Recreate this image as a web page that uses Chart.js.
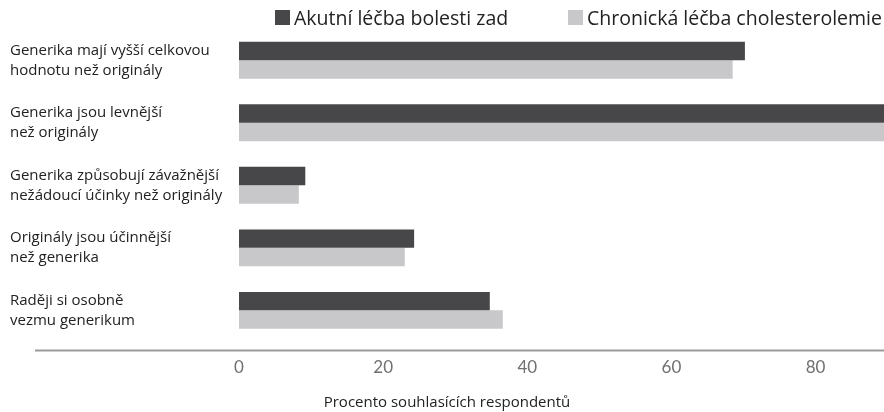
<!DOCTYPE html>
<html>
<head>
<meta charset="utf-8">
<script src="https://cdn.jsdelivr.net/npm/chart.js@4"></script>
<style>
  body { margin: 0; background: #fff; }
  #wrap { position: relative; width: 884px; height: 412px; }
  #legend { position: absolute; top: 4px; left: 275px; font-family: "Open Sans", sans-serif; font-size: 19.5px; color: #222; white-space: nowrap; }
  #legend span.item { position: absolute; top: 0; display: flex; align-items: center; }
  #legend span.box { display: inline-block; width: 15px; height: 15px; margin-right: 4px; }
</style>
</head>
<body>
<div id="wrap">
  <canvas id="chart" width="884" height="412"></canvas>
  <div id="legend"></div>
</div>
<script>
// kategorie (víceřádkové popisky)
const categories = [
  ["Generika mají vyšší celkovou", "hodnotu než originály"],
  ["Generika jsou levnější", "než originály"],
  ["Generika způsobují závažnější", "nežádoucí účinky než originály"],
  ["Originály jsou účinnější", "než generika"],
  ["Raději si osobně", "vezmu generikum"]
];
const seriesNames = ["Akutní léčba bolesti zad", "Chronická léčba cholesterolemie"];
const acuteValues = [70.2, 92, 9.2, 24.3, 34.8];
const chronicValues = [68.5, 91, 8.3, 23.0, 36.6];
const seriesColors = ["#47474a", "#c8c8cb"];
const xTicks = [0, 20, 40, 60, 80];
const axisTitle = "Procento souhlasících respondentů";

// legenda jako HTML
const legendEl = document.getElementById("legend");
const legendOffsets = [0, 293];
seriesNames.forEach((name, i) => {
  const item = document.createElement("span");
  item.className = "item";
  item.style.left = legendOffsets[i] + "px";
  item.innerHTML = `<span class="box" style="background:${seriesColors[i]}"></span>${name}`;
  legendEl.appendChild(item);
});

// čára osy x přes celou šířku
const axisLine = {
  id: "axisLine",
  afterDraw(chart) {
    const ctx = chart.ctx;
    const y = chart.chartArea.bottom + 9;
    ctx.save();
    ctx.strokeStyle = "#9a9a9a";
    ctx.lineWidth = 2;
    ctx.beginPath();
    ctx.moveTo(35, y);
    ctx.lineTo(chart.width, y);
    ctx.stroke();
    ctx.restore();
  }
};

new Chart(document.getElementById("chart"), {
  type: "bar",
  plugins: [axisLine],
  data: {
    labels: categories,
    datasets: [
      { label: seriesNames[0], data: acuteValues, backgroundColor: seriesColors[0] },
      { label: seriesNames[1], data: chronicValues, backgroundColor: seriesColors[1] }
    ]
  },
  options: {
    indexAxis: "y",
    responsive: false,
    animation: false,
    datasets: { bar: { barPercentage: 1, categoryPercentage: 0.59 } },
    layout: { padding: { left: 10, top: 29, right: 0, bottom: 0 } },
    scales: {
      y: {
        grid: { display: false, drawTicks: false },
        border: { display: false },
        ticks: {
          crossAlign: "far",
          color: "#222",
          font: { family: "Open Sans", size: 15, lineHeight: 1.33 }
        },
        afterFit: (scale) => { scale.width = 229; }
      },
      x: {
        min: 0,
        max: 89.5,
        grid: { display: false, drawTicks: false },
        border: { display: false },
        afterBuildTicks: (scale) => { scale.ticks = xTicks.map(v => ({ value: v })); },
        ticks: {
          padding: 16,
          color: "#707070",
          font: { family: "Lato", size: 17 }
        }
      }
    },
    plugins: {
      legend: { display: false },
      tooltip: { enabled: false },
      title: {
        display: true,
        position: "bottom",
        text: axisTitle,
        color: "#222",
        font: { family: "Open Sans", size: 15, weight: "normal" },
        padding: { top: 0, bottom: 0 }
      }
    }
  }
});
</script>
</body>
</html>
